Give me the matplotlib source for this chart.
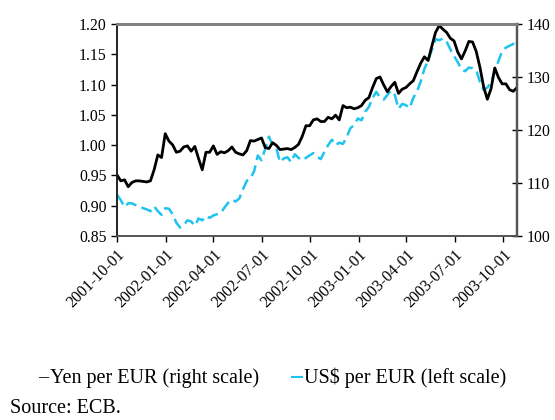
import pandas as pd
import matplotlib
matplotlib.use("Agg")
import matplotlib.pyplot as plt
import matplotlib.dates as mdates

# ---------------------------------------------------------------
# Euro exchange rates, weekly readings (Oct 2001 - Oct 2003)
# ---------------------------------------------------------------
START = "2001-10-01"

yen_per_eur = [
    111.5, 110.4, 110.6, 109.3, 110.1, 110.4, 110.4, 110.3, 110.2, 110.4,
    112.5, 115.3, 114.8, 119.3, 117.9, 117.2, 115.8, 116.0, 116.8, 117.0,
    116.0, 116.9, 114.6, 112.5, 115.8, 115.8, 117.0, 115.4, 115.9, 115.7,
    116.1, 116.8, 115.8, 115.5, 115.3, 116.1, 118.0, 117.9, 118.2, 118.5,
    116.7, 116.5, 117.6, 117.1, 116.3, 116.4, 116.5, 116.3, 116.7, 117.3,
    118.8, 120.8, 120.8, 121.9, 122.1, 121.6, 121.6, 122.4, 122.1, 122.8,
    121.9, 124.6, 124.2, 124.3, 124.0, 124.2, 124.6, 125.6, 126.1, 128.0,
    129.7, 130.0, 128.5, 127.2, 128.2, 129.0, 126.9, 127.7, 128.0, 128.7,
    129.3, 131.0, 132.6, 133.8, 133.1, 135.8, 138.4, 139.7, 139.0, 138.4,
    137.3, 136.8, 134.7, 133.4, 134.9, 136.7, 136.6, 134.8, 131.8, 128.1,
    125.8, 127.8, 131.7, 129.9, 128.7, 128.7, 127.6, 127.3, 128.0,
]

usd_per_eur = [
    0.918, 0.909, 0.898, 0.904, 0.904, 0.901, 0.899, 0.896, 0.894, 0.891,
    0.899, 0.891, 0.885, 0.896, 0.895, 0.886, 0.872, 0.864, 0.868, 0.876,
    0.874, 0.867, 0.879, 0.876, 0.883, 0.880, 0.884, 0.886, 0.888, 0.897,
    0.905, 0.910, 0.907, 0.912, 0.927, 0.941, 0.945, 0.957, 0.983, 0.975,
    0.994, 1.014, 1.000, 0.995, 0.972, 0.978, 0.980, 0.972, 0.985, 0.979,
    0.975, 0.979, 0.983, 0.987, 0.981, 0.977, 0.989, 1.000, 1.009, 1.000,
    1.004, 1.002, 1.013, 1.028, 1.033, 1.044, 1.041, 1.055, 1.063, 1.078,
    1.088, 1.079, 1.075, 1.083, 1.090, 1.083, 1.060, 1.068, 1.066, 1.061,
    1.078, 1.089, 1.105, 1.126, 1.140, 1.157, 1.175, 1.173, 1.176, 1.171,
    1.158, 1.147, 1.137, 1.125, 1.122, 1.128, 1.127, 1.124, 1.104, 1.091,
    1.095, 1.104, 1.122, 1.139, 1.155, 1.161, 1.164, 1.167, 1.175,
]

dates = pd.date_range(START, periods=len(yen_per_eur), freq="7D")

x_ticks = ["2001-10-01", "2002-01-01", "2002-04-01", "2002-07-01", "2002-10-01",
           "2003-01-01", "2003-04-01", "2003-07-01", "2003-10-01"]
left_ticks = [0.85, 0.90, 0.95, 1.00, 1.05, 1.10, 1.15, 1.20]
right_ticks = [100, 110, 120, 130, 140]

CYAN = "#1EC3EE"
SERIF = "Liberation Serif"

plt.rcParams["font.family"] = SERIF

fig = plt.figure(figsize=(5.55, 4.2), dpi=100)
ax = fig.add_axes([0.211, 0.438, 0.7205, 0.505])
ax2 = ax.twinx()

ax.plot(dates, usd_per_eur, color=CYAN, linewidth=1.8, dashes=(4.5, 2.2))
ax2.plot(dates, yen_per_eur, color="black", linewidth=2.0)

ax.set_xlim(pd.Timestamp(START), dates[-1])
ax.set_ylim(0.85, 1.20)
ax2.set_ylim(100, 140)

ax.set_yticks(left_ticks)
ax.set_yticklabels([f"{v:.2f}" for v in left_ticks])
ax2.set_yticks(right_ticks)

ax.set_xticks(pd.to_datetime(x_ticks))
ax.xaxis.set_major_formatter(mdates.DateFormatter("%Y-%m-%d"))
plt.setp(ax.get_xticklabels(), rotation=45, ha="right", rotation_mode="anchor")

ax.tick_params(axis="y", direction="out", length=4, width=1, labelsize=11.3)
ax.tick_params(axis="x", direction="out", length=4, width=1, labelsize=11.5, pad=4)
ax2.tick_params(axis="y", direction="inout", length=7, width=1, labelsize=11.3)

for a in (ax, ax2):
    a.spines["top"].set_color("#808080")
    a.spines["top"].set_linewidth(2)
    a.spines["bottom"].set_color("#555555")
    a.spines["bottom"].set_linewidth(1.2)
    a.spines["left"].set_color("#222222")
    a.spines["left"].set_linewidth(1.2)
    a.spines["right"].set_color("#555555")
    a.spines["right"].set_linewidth(1.6)

# legend below the chart
fig.text(0.068, 0.10, "\u2013", fontsize=14.5, color="black", va="center")
fig.text(0.090, 0.10, "Yen per EUR (right scale)", fontsize=14.5, va="center")
fig.lines.append(plt.Line2D([0.526, 0.545], [0.103, 0.103], color=CYAN,
                            linewidth=1.5, transform=fig.transFigure))
fig.text(0.548, 0.10, "US$ per EUR (left scale)", fontsize=14.5, va="center")

fig.text(0.018, 0.028, "Source: ECB.", fontsize=14.5, va="center")

fig.savefig("out.png", dpi=100)
